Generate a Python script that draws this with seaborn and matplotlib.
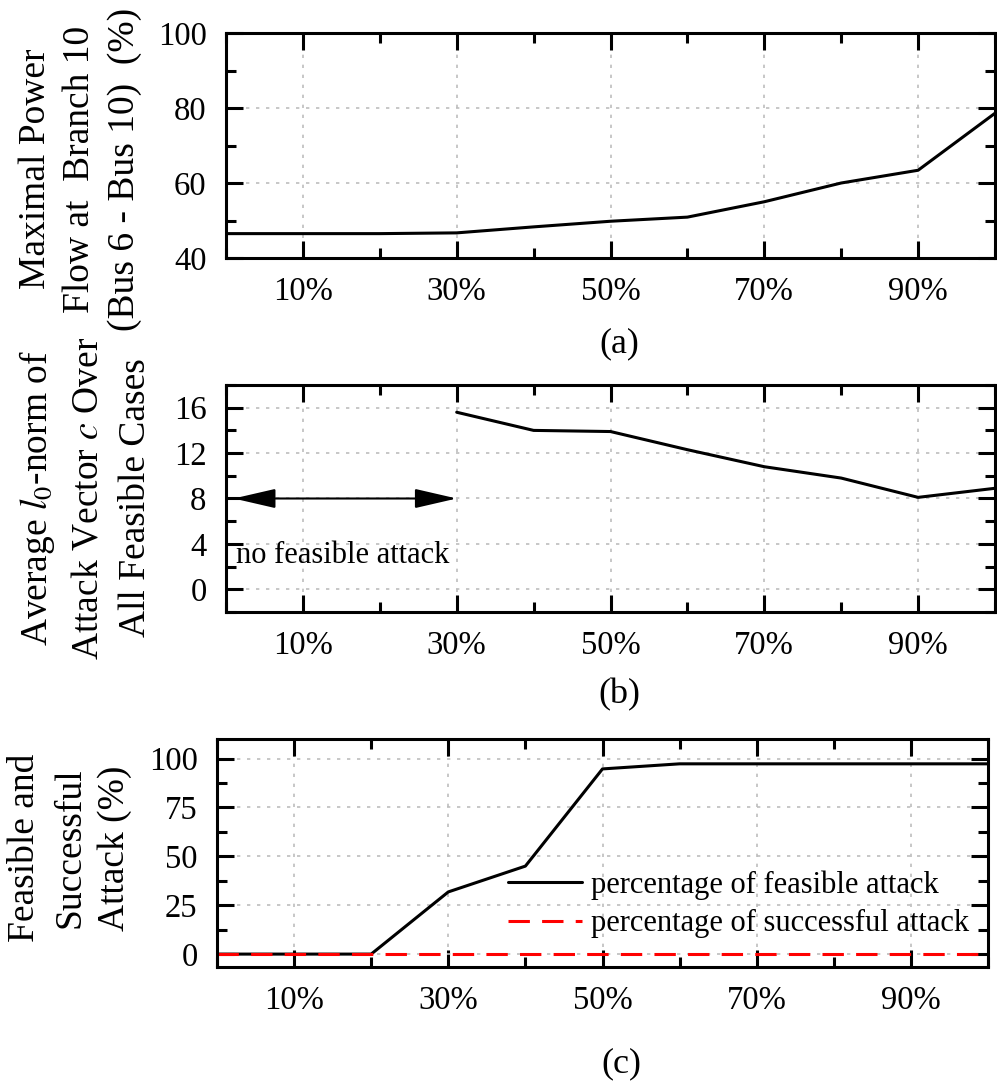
import numpy as np
import pandas as pd
import matplotlib
matplotlib.use('Agg')
import matplotlib.pyplot as plt
import seaborn as sns
from matplotlib.ticker import MultipleLocator, FuncFormatter

# data
x_pct = [0, 10, 20, 30, 40, 50, 60, 70, 80, 90, 100]
power_flow = [46.5, 46.5, 46.5, 46.7, 48.3, 49.8, 50.9, 55.0, 60.0, 63.4, 78.6]

x_l0 = [30, 40, 50, 60, 70, 80, 90, 100]
l0_norm = [15.6, 14.0, 13.9, 12.3, 10.8, 9.8, 8.1, 8.9]

feasible = [0, 0, 0, 31.8, 45.0, 94.7, 97.3, 97.3, 97.3, 97.3, 97.3]
successful = [0, 0, 0, 0, 0, 0, 0, 0, 0, 0, 0]

xtick_major = [10, 30, 50, 70, 90]

sns.set_theme(style='ticks')
plt.rcParams['font.family'] = ['Liberation Serif', 'DejaVu Serif']
plt.rcParams['mathtext.fontset'] = 'stix'
plt.rcParams['text.color'] = 'black'
plt.rcParams['xtick.color'] = 'black'
plt.rcParams['ytick.color'] = 'black'
plt.rcParams['axes.labelcolor'] = 'black'

W, H = 997, 1086
fig = plt.figure(figsize=(W / 100, H / 100), dpi=100)


def box(left, top, right, bottom):
    return [left / W, 1 - bottom / H, (right - left) / W, (bottom - top) / H]


def style_axis(ax, ymajor, yminor):
    ax.set_xlim(0, 100)
    ax.xaxis.set_major_locator(plt.FixedLocator(xtick_major))
    ax.xaxis.set_minor_locator(MultipleLocator(10))
    ax.xaxis.set_major_formatter(FuncFormatter(lambda v, p: f'{int(v)}%'))
    ax.yaxis.set_major_locator(MultipleLocator(ymajor))
    ax.yaxis.set_minor_locator(MultipleLocator(yminor))
    ax.tick_params(which='both', direction='in', top=True, right=True, width=2.2,
                   colors='black', labelcolor='black')
    ax.tick_params(which='major', length=12, labelsize=23.5)
    ax.tick_params(which='minor', length=7)
    ax.tick_params(axis='x', which='major', pad=13)
    ax.tick_params(axis='y', which='major', pad=14)
    for s in ax.spines.values():
        s.set_linewidth(2.2)
        s.set_color('black')
        s.set_visible(True)
    ax.grid(True, which='major', color='#bdbdbd', linestyle=(0, (2, 4)), linewidth=1.2)
    ax.set_xlabel('')
    ax.set_ylabel('')


# (a) maximal power flow
ax1 = fig.add_axes(box(226, 33, 995, 258))
sns.lineplot(x=x_pct, y=power_flow, ax=ax1, color='black', linewidth=2.2)
ax1.set_ylim(40, 100)
style_axis(ax1, 20, 10)
fig.text(80 / W, 1 - 169 / H, 'Maximal Power\nFlow at  Branch 10\n(Bus 6 - Bus 10)  (%)',
         rotation=90, ha='center', va='center', multialignment='center', fontsize=27,
         linespacing=1.38)
fig.text(619 / W, 1 - 344 / H, '(a)', ha='center', va='center', fontsize=26)

# (b) average l0-norm
ax2 = fig.add_axes(box(226, 385, 995, 612))
sns.lineplot(x=x_l0, y=l0_norm, ax=ax2, color='black', linewidth=2.2)
ax2.set_ylim(-2, 18)
style_axis(ax2, 4, 2)
ax2.annotate('', xy=(1, 8), xytext=(30, 8),
             arrowprops=dict(arrowstyle='<|-|>,head_length=1.3,head_width=0.3',
                             mutation_scale=20, color='black', lw=1.5,
                             shrinkA=0, shrinkB=0))
ax2.text(1.3, 3.0, 'no feasible attack', ha='left', va='center', fontsize=22)
fig.text(85 / W, 1 - 498 / H,
         'Average $l_0$-norm of\nAttack Vector $c$ Over\nAll Feasible Cases',
         rotation=90, ha='center', va='center', multialignment='center', fontsize=27,
         linespacing=1.5)
fig.text(619 / W, 1 - 695 / H, '(b)', ha='center', va='center', fontsize=26)

# (c) feasible and successful attacks
ax3 = fig.add_axes(box(217, 739, 988, 967))
df_c = pd.DataFrame({'x': x_pct * 2,
                     'value': feasible + successful,
                     'series': ['percentage of feasible attack'] * len(x_pct)
                               + ['percentage of successful attack'] * len(x_pct)})
sns.lineplot(data=df_c, x='x', y='value', hue='series', style='series',
             palette=['black', '#ff0000'], dashes=[(None, None), (7, 4)],
             linewidth=2.2, ax=ax3)
ax3.set_ylim(-6.6, 110)
style_axis(ax3, 25, 12.5)
leg = ax3.legend(loc='upper left', bbox_to_anchor=(0.378, 0.425), frameon=False,
                 fontsize=22, handlelength=2.4, handletextpad=0.3, labelspacing=0.32,
                 borderpad=0, borderaxespad=0)
for h in leg.get_lines():
    h.set_linewidth(2.2)
fig.text(70 / W, 1 - 848 / H, 'Feasible and\nSuccessful\nAttack (%)',
         rotation=90, ha='center', va='center', multialignment='center', fontsize=27,
         linespacing=1.4)
fig.text(621 / W, 1 - 1064 / H, '(c)', ha='center', va='center', fontsize=26)

fig.savefig('out.png', dpi=100)
